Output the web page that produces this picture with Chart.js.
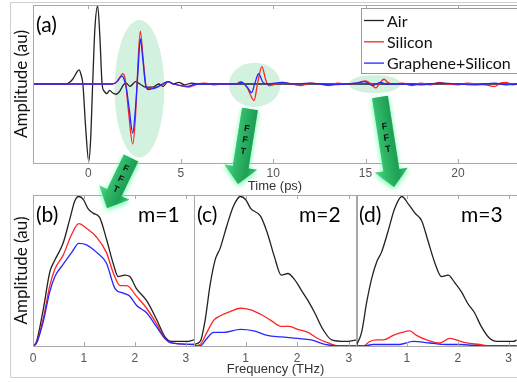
<!DOCTYPE html>
<html><head><meta charset="utf-8">
<script src="https://cdn.jsdelivr.net/npm/chart.js@4/dist/chart.umd.min.js"></script>
<style>
html,body{margin:0;padding:0;background:#fff;}
#wrap{position:relative;width:517px;height:382px;overflow:hidden;background:#fff;}
canvas{position:absolute;}
</style></head><body>
<div id="wrap">
<canvas id="frame" width="517" height="382" style="left:0px;top:0px"></canvas>
<canvas id="ca" width="517" height="194" style="left:0px;top:0px"></canvas>
<canvas id="cb" width="196" height="197" style="left:0px;top:185px"></canvas>
<canvas id="cc" width="176" height="197" style="left:186px;top:185px"></canvas>
<canvas id="cd" width="169" height="197" style="left:348px;top:185px"></canvas>
<canvas id="over" width="517" height="382" style="left:0px;top:0px"></canvas>
</div>
<script>
// ---------------- DATA ----------------
const seriesNames = ['Air', 'Silicon', 'Graphene+Silicon'];
const timeTicks = [0, 5, 10, 15, 20];
const freqTicksFirst = [0, 1, 2, 3];
const freqTicksOther = [1, 2, 3];
const panelLetters = ['(a)', '(b)', '(c)', '(d)'];
const panelOrders = ['m=1', 'm=2', 'm=3'];

// (a) time-domain signals (ps, au)
const timeAir = [-3,-1.3,-1.1,-0.85,-0.6,-0.5,-0.4,-0.3,-0.15,0.02,0.12,0.23,0.35,0.5,0.62,0.74,0.85,1.0,1.15,1.3,1.5,1.7,1.9,2.05,2.25,2.55,2.85,3.1,3.5,3.8,4.05,4.3,4.6,4.9,5.2,5.6,6.0,23.2];
const ampAir  = [0,0,0.01,0.06,0.16,0.18,0.12,0.0,-0.55,-0.98,-0.7,0,0.7,0.99,0.6,0.0,-0.09,-0.12,-0.08,-0.11,-0.13,-0.09,-0.01,0.01,-0.03,0.03,-0.01,-0.04,-0.04,0,-0.03,0.03,0.0,0.02,-0.01,0.01,0,0];
const timeSi = [-3,1.2,1.5,1.75,1.86,2.0,2.15,2.4,2.55,2.65,2.81,2.95,3.1,3.2,3.45,3.7,4.0,4.3,4.6,5.0,5.4,5.8,6.3,6.8,7.3,8.0,8.25,8.6,8.97,9.15,9.39,9.6,9.75,10.0,10.5,11,11.5,12,12.5,13,13.5,14,14.5,15.0,15.3,15.55,15.8,16.0,16.2,16.4,17,17.5,18,18.5,19,19.5,20,20.5,21,21.5,22.0,22.3,22.6,23.0,23.2];
const ampSi  = [0,0,0.02,0.1,0.13,0.05,-0.3,-0.76,-0.4,0.1,0.67,0.35,0.0,-0.06,-0.05,-0.04,-0.01,0.03,0,-0.02,-0.04,-0.01,0.01,-0.01,0.0,0.0,0.03,-0.05,-0.21,0.0,0.22,0.05,-0.02,-0.01,0.02,0,-0.02,0.01,0.0,-0.02,0.01,0,0.01,0.04,0.0,-0.05,0.02,0.06,0.02,0.0,0.01,-0.02,0.01,-0.01,0.02,0,-0.01,0.01,0.0,-0.01,-0.03,0.01,0.02,-0.01,0];
const timeGr = [-3,1.3,1.55,1.8,1.9,2.05,2.2,2.4,2.55,2.68,2.81,2.95,3.1,3.25,3.5,3.8,4.0,4.3,4.6,5.0,5.4,5.8,6.5,8.0,8.3,8.6,8.83,9.0,9.21,9.45,9.7,10.5,11,12,13,14,14.5,14.95,15.37,15.8,16.1,17,18,19,20,21,22,22.6,23.2];
const ampGr  = [0,0,0.03,0.1,0.08,-0.05,-0.3,-0.62,-0.3,0.15,0.57,0.3,-0.02,-0.07,-0.06,-0.03,0.0,0.03,0,-0.02,-0.03,0.0,0.0,0,0.02,-0.04,-0.11,0.0,0.13,0.02,0,0.02,0.0,0.01,-0.01,0,0.01,0.03,-0.02,0.02,0.0,0.0,-0.01,0.01,0,-0.01,0.01,-0.01,0];

// highlighted echoes (centre time, centre amplitude, half-width ps, half-height au)
const echoT  = [2.76, 9.0, 15.5];
const echoA  = [-0.06, -0.01, 0.0];
const echoRT = [1.35, 1.4, 1.4];
const echoRA = [0.87, 0.28, 0.115];

// (b) m=1 spectra (THz, au)
const fB_air = [0,0.07,0.2,0.33,0.43,0.59,0.73,0.82,0.9,0.99,1.08,1.18,1.31,1.44,1.58,1.67,1.8,1.9,2.03,2.23,2.42,2.59,2.72,3.01,3.16];
const aB_air = [0,0.03,0.24,0.49,0.57,0.68,0.85,0.96,0.99,0.97,0.91,0.88,0.85,0.71,0.54,0.46,0.47,0.46,0.38,0.30,0.18,0.06,0.03,0.03,0.04];
const fB_si  = [0,0.07,0.2,0.33,0.43,0.59,0.76,0.9,1.05,1.25,1.44,1.58,1.71,1.84,2.03,2.23,2.42,2.59,2.72,3.16];
const aB_si  = [0,0.02,0.18,0.40,0.51,0.60,0.74,0.81,0.78,0.72,0.62,0.48,0.40,0.40,0.33,0.25,0.15,0.05,0.02,0.01];
const fB_gr  = [0,0.07,0.2,0.33,0.43,0.59,0.76,0.9,1.05,1.25,1.44,1.61,1.77,1.9,2.03,2.23,2.42,2.59,2.72,3.16];
const aB_gr  = [0,0.02,0.16,0.36,0.46,0.54,0.62,0.68,0.67,0.62,0.55,0.38,0.35,0.33,0.27,0.22,0.13,0.05,0.02,0.01];
// (c) m=2 spectra
const fC_air = [0,0.12,0.22,0.31,0.41,0.51,0.64,0.77,0.9,1.0,1.1,1.29,1.42,1.56,1.69,1.82,1.95,2.08,2.21,2.34,2.5,2.67,2.93,3.16];
const aC_air = [0.01,0.03,0.18,0.40,0.57,0.65,0.80,0.93,0.99,0.97,0.91,0.86,0.75,0.59,0.47,0.48,0.44,0.37,0.30,0.22,0.11,0.04,0.03,0.04];
const fC_si  = [0,0.12,0.25,0.38,0.51,0.71,0.9,1.1,1.29,1.49,1.69,1.85,2.01,2.21,2.4,2.6,2.8,3.16];
const aC_si  = [0,0.01,0.09,0.17,0.20,0.23,0.25,0.24,0.21,0.17,0.13,0.13,0.11,0.09,0.05,0.02,0,0];
const fC_gr  = [0,0.12,0.25,0.38,0.58,0.9,1.16,1.42,1.69,2.01,2.27,2.54,2.8,3.16];
const aC_gr  = [0,0,0.05,0.09,0.09,0.11,0.10,0.07,0.06,0.05,0.04,0.01,0,0];
// (d) m=3 spectra
const fD_air = [0,0.11,0.21,0.31,0.41,0.5,0.63,0.76,0.9,1.03,1.16,1.29,1.42,1.55,1.68,1.81,1.94,2.07,2.2,2.33,2.46,2.63,2.82,3.09,3.16];
const aD_air = [0,0.09,0.29,0.45,0.56,0.62,0.76,0.91,0.99,0.94,0.88,0.83,0.69,0.55,0.46,0.47,0.42,0.36,0.28,0.22,0.13,0.05,0.03,0.03,0.04];
const fD_si  = [0,0.14,0.27,0.41,0.54,0.73,0.9,1.06,1.19,1.39,1.65,1.84,1.97,2.17,2.43,2.63,3.16];
const aD_si  = [0,0,0.03,0.04,0.04,0.07,0.09,0.10,0.07,0.04,0.02,0.05,0.04,0.02,0.01,0,0];
const fD_gr  = [0,0.14,0.34,0.86,1.12,1.45,1.78,2.04,2.5,3.16];
const aD_gr  = [0,0,0.01,0.01,0.03,0.02,0.01,0.01,0,0];

// ---------------- STYLE ----------------
const COLORS = ['#222222', '#ff2424', '#2626ff'];
const SANS = '"Liberation Sans", Arial, sans-serif';
const LABF = 'Lato, "Liberation Sans", sans-serif';
const BOX = '#a8a8a8';
const toXY = (xs, ys) => xs.map((x, i) => ({x, y: ys[i]}));

// box + inside ticks
const boxPlugin = {
  id: 'box',
  afterDatasetsDraw(chart) {
    const {ctx, chartArea: a, scales: {x}} = chart;
    ctx.save();
    ctx.strokeStyle = BOX; ctx.lineWidth = 1;
    ctx.strokeRect(Math.round(a.left) + 0.5, Math.round(a.top) + 0.5, Math.round(a.right - a.left) , Math.round(a.bottom - a.top));
    x.ticks.forEach(t => {
      const px = Math.round(x.getPixelForValue(t.value)) + 0.5;
      ctx.beginPath();
      ctx.moveTo(px, a.bottom); ctx.lineTo(px, a.bottom - 4);
      ctx.moveTo(px, a.top); ctx.lineTo(px, a.top + 4);
      ctx.stroke();
    });
    ctx.restore();
  }
};

const ellipsePlugin = {
  id: 'ellipses',
  beforeDatasetsDraw(chart) {
    const {ctx, scales: {x, y}} = chart;
    ctx.save();
    ctx.fillStyle = 'rgba(200,238,215,0.8)';
    echoT.forEach((t, i) => {
      const cx = x.getPixelForValue(t), cy = y.getPixelForValue(echoA[i]);
      const rx = x.getPixelForValue(t + echoRT[i]) - cx;
      const ry = y.getPixelForValue(echoA[i] - echoRA[i]) - cy;
      ctx.beginPath(); ctx.ellipse(cx, cy, rx, ry, 0, 0, Math.PI * 2); ctx.fill();
    });
    ctx.restore();
  }
};

const legendPlugin = {
  id: 'customLegend',
  afterDraw(chart) {
    const {ctx} = chart;
    ctx.save();
    ctx.fillStyle = '#fff'; ctx.strokeStyle = '#9a9a9a'; ctx.lineWidth = 1;
    ctx.fillRect(361.5, 8.5, 200, 65); ctx.strokeRect(361.5, 8.5, 200, 65);
    ctx.font = '16px ' + LABF; ctx.textBaseline = 'middle'; ctx.fillStyle = '#111';
    chart.data.datasets.forEach((ds, i) => {
      const yy = 20.5 + i * 21.3;
      ctx.strokeStyle = ds.borderColor; ctx.lineWidth = 1.3;
      ctx.beginPath(); ctx.moveTo(364, yy); ctx.lineTo(384, yy); ctx.stroke();
      ctx.fillStyle = '#111'; ctx.fillText(ds.label, 387, yy + 1);
    });
    ctx.restore();
  }
};

function labelPlugin(letter, order) {
  return {
    id: 'panelLabel',
    afterDraw(chart) {
      const {ctx, chartArea: a} = chart;
      ctx.save();
      ctx.fillStyle = '#000'; ctx.font = '21px ' + LABF; ctx.textBaseline = 'middle';
      ctx.fillText(letter, a.left + 3, a.top + 20);
      if (order) ctx.fillText(order, a.left + 105, a.top + 20);
      ctx.restore();
    }
  };
}

function lineDs(i, data) {
  return {label: seriesNames[i], data, borderColor: COLORS[i], borderWidth: 1.3,
          pointRadius: 0, cubicInterpolationMode: 'monotone', order: 3 - i, fill: false};
}

// ---------------- (a) ----------------
new Chart(document.getElementById('ca'), {
  type: 'line',
  data: {datasets: [lineDs(0, toXY(timeAir, ampAir)), lineDs(1, toXY(timeSi, ampSi)), lineDs(2, toXY(timeGr, ampGr))]},
  options: {
    responsive: false, animation: false, devicePixelRatio: 1, events: [],
    layout: {padding: {top: 5, left: 0, right: 0, bottom: 0}},
    plugins: {legend: {display: false}, tooltip: {enabled: false}},
    scales: {
      x: {type: 'linear', min: -3, max: 23.2,
          afterBuildTicks: s => { s.ticks = timeTicks.map(v => ({value: v})); },
          afterFit: s => { s.height = 31; },
          grid: {display: false, drawTicks: false}, border: {display: false},
          ticks: {font: {size: 12, family: SANS}, color: '#555', padding: 3, maxRotation: 0, autoSkip: false},
          title: {display: true, text: 'Time (ps)', font: {size: 13, family: SANS}, color: '#333', padding: {top: 0, bottom: 0}}},
      y: {type: 'linear', min: -1, max: 1,
          afterFit: s => { s.width = 33; },
          ticks: {display: false}, grid: {display: false, drawTicks: false}, border: {display: false},
          title: {display: true, text: 'Amplitude (au)', font: {size: 17, family: LABF}, color: '#111', padding: {top: 11, bottom: 0}}}
    }
  },
  plugins: [ellipsePlugin, boxPlugin, legendPlugin, labelPlugin(panelLetters[0], null)]
});

// ---------------- (b)(c)(d) ----------------
function spectrum(id, sets, ticks, padL, padR, yTitle, xTitle, letter, order) {
  new Chart(document.getElementById(id), {
    type: 'line',
    data: {datasets: sets.map((s, i) => lineDs(i, toXY(s[0], s[1])))},
    options: {
      responsive: false, animation: false, devicePixelRatio: 1, events: [],
      layout: {padding: {top: 10, left: padL, right: padR, bottom: 5}},
      plugins: {legend: {display: false}, tooltip: {enabled: false}},
      scales: {
        x: {type: 'linear', min: 0, max: 3.16,
            afterBuildTicks: s => { s.ticks = ticks.map(v => ({value: v})); },
            afterFit: s => { s.height = 31; },
            grid: {display: false, drawTicks: false}, border: {display: false},
            ticks: {font: {size: 12, family: SANS}, color: '#555', padding: 5, maxRotation: 0, autoSkip: false},
            title: {display: !!xTitle, text: xTitle || '', font: {size: 13, family: SANS}, color: '#333', padding: {top: 0, bottom: 0}}},
        y: {type: 'linear', min: 0, max: 1, display: !!yTitle,
            afterFit: s => { s.width = yTitle ? 33 : 0; },
            ticks: {display: false}, grid: {display: false, drawTicks: false}, border: {display: false},
            title: {display: !!yTitle, text: yTitle || '', font: {size: 17, family: LABF}, color: '#111', padding: {top: 11, bottom: 0}}}
      }
    },
    plugins: [boxPlugin, labelPlugin(letter, order)]
  });
}
spectrum('cb', [[fB_air, aB_air], [fB_si, aB_si], [fB_gr, aB_gr]], freqTicksFirst, 0, 2, 'Amplitude (au)', null, panelLetters[1], panelOrders[0]);
spectrum('cc', [[fC_air, aC_air], [fC_si, aC_si], [fC_gr, aC_gr]], freqTicksOther, 8, 5, null, 'Frequency (THz)', panelLetters[2], panelOrders[1]);
spectrum('cd', [[fD_air, aD_air], [fD_si, aD_si], [fD_gr, aD_gr]], freqTicksOther, 8, 0, null, null, panelLetters[3], panelOrders[2]);

// ---------------- frame ----------------
(function () {
  const ctx = document.getElementById('frame').getContext('2d');
  ctx.fillStyle = '#fff'; ctx.fillRect(0, 0, 517, 382);
  ctx.strokeStyle = '#cfcfcf'; ctx.lineWidth = 1;
  ctx.beginPath();
  ctx.moveTo(520, 2.5); ctx.lineTo(10.5, 2.5); ctx.lineTo(10.5, 377.5); ctx.lineTo(520, 377.5);
  ctx.stroke();
})();

// ---------------- FFT arrows ----------------
const arrows = [
  {x1: 131, y1: 158, x2: 107, y2: 208, text0: 12},
  {x1: 250, y1: 109, x2: 238, y2: 184, text0: 20},
  {x1: 380, y1: 97, x2: 394, y2: 187, text0: 30}
];
(function () {
  const ctx = document.getElementById('over').getContext('2d');
  arrows.forEach(a => {
    const dx = a.x2 - a.x1, dy = a.y2 - a.y1, L = Math.hypot(dx, dy);
    ctx.save();
    ctx.translate(a.x1, a.y1);
    ctx.rotate(Math.atan2(dy, dx) - Math.PI / 2);
    const bw = 8, hw = 16.5, hl = 17;
    const path = () => {
      ctx.beginPath();
      ctx.moveTo(-bw, 0); ctx.lineTo(bw, 0); ctx.lineTo(bw, L - hl); ctx.lineTo(hw, L - hl);
      ctx.lineTo(0, L); ctx.lineTo(-hw, L - hl); ctx.lineTo(-bw, L - hl); ctx.closePath();
    };
    ctx.save();
    ctx.shadowColor = 'rgba(90,255,160,0.95)'; ctx.shadowBlur = 5; ctx.shadowOffsetY = 2;
    path(); ctx.fillStyle = '#5ef09a'; ctx.fill();
    ctx.restore();
    const g = ctx.createLinearGradient(-hw, 0, hw, 0);
    g.addColorStop(0, '#52d98a'); g.addColorStop(0.35, '#2fb867'); g.addColorStop(0.7, '#1f9f55'); g.addColorStop(1, '#3cc474');
    path(); ctx.fillStyle = g; ctx.fill();
    ctx.fillStyle = '#111'; ctx.font = 'bold 9px ' + SANS; ctx.textAlign = 'center'; ctx.textBaseline = 'middle';
    ['F', 'F', 'T'].forEach((c, k) => ctx.fillText(c, 0, a.text0 + k * 11.5));
    ctx.restore();
  });
})();
</script>
</body></html>
